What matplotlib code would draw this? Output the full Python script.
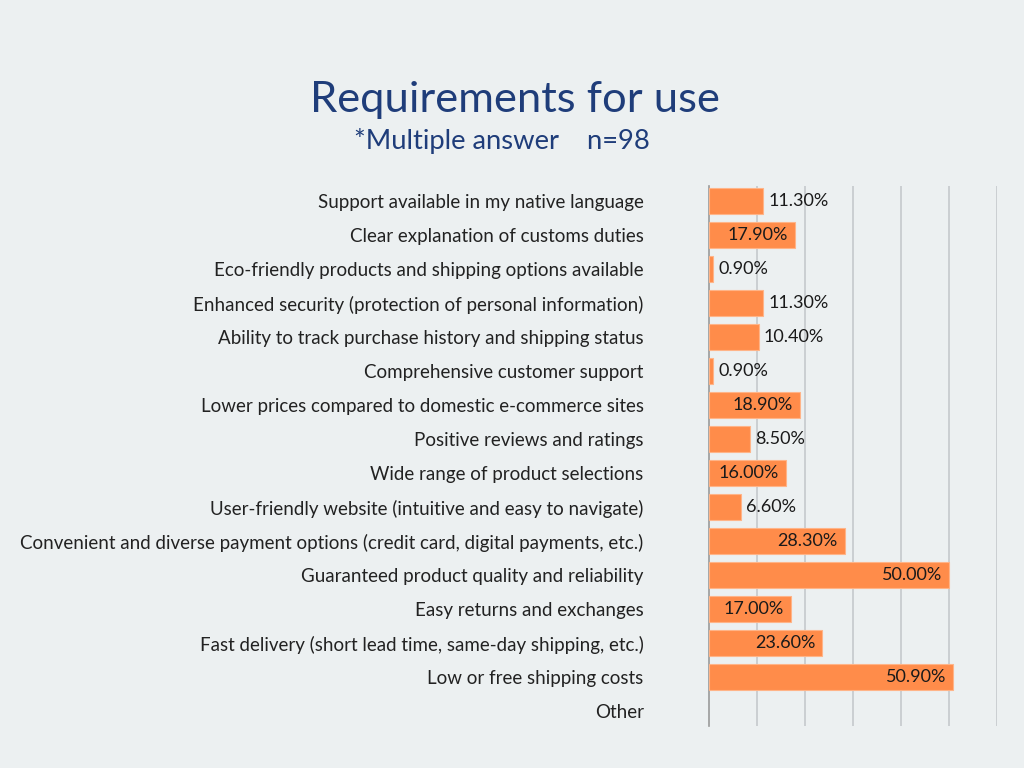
import matplotlib.pyplot as plt

categories = [
    "Support available in my native language",
    "Clear explanation of customs duties",
    "Eco-friendly products and shipping options available",
    "Enhanced security (protection of personal information)",
    "Ability to track purchase history and shipping status",
    "Comprehensive customer support",
    "Lower prices compared to domestic e-commerce sites",
    "Positive reviews and ratings",
    "Wide range of product selections",
    "User-friendly website (intuitive and easy to navigate)",
    "Convenient and diverse payment options (credit card, digital payments, etc.)",
    "Guaranteed product quality and reliability",
    "Easy returns and exchanges",
    "Fast delivery (short lead time, same-day shipping, etc.)",
    "Low or free shipping costs",
    "Other",
]
values = [11.3, 17.9, 0.9, 11.3, 10.4, 0.9, 18.9, 8.5, 16.0, 6.6, 28.3, 50.0, 17.0, 23.6, 50.9, None]

bg = "#ECF0F1"
bar_color = "#FF8C4A"
title_color = "#1F3D7A"

plt.rcParams['font.family'] = ['Lato', 'DejaVu Sans']

fig = plt.figure(figsize=(10.24, 7.68), dpi=100, facecolor=bg)
ax = fig.add_axes([0.6924, 0.0547, 0.2812, 0.703])
ax.set_facecolor(bg)

ypos = list(range(len(categories)))
for y, v in zip(ypos, values):
    if v is None:
        continue
    ax.barh(y, v, height=0.76, color=bar_color, edgecolor="#FFB488", linewidth=0.8, zorder=3)
    label = f"{v:.2f}%"
    if v >= 15:
        ax.annotate(label, (v, y), xytext=(-5, 0), textcoords="offset points",
                    ha="right", va="center", fontsize=13, color="#1a1a1a", zorder=4)
    else:
        ax.annotate(label, (v, y), xytext=(3.5, 0), textcoords="offset points",
                    ha="left", va="center", fontsize=13, color="#1a1a1a", zorder=4)

ax.set_xlim(0, 60)
ax.set_ylim(len(categories) - 0.56, -0.44)
ax.set_yticks(ypos)
ax.set_yticklabels(categories, fontsize=13.5, color="#222222")
ax.tick_params(axis="y", length=0, pad=47)
ax.set_xticks([10, 20, 30, 40, 50, 60])
ax.tick_params(axis="x", length=0, labelbottom=False)
ax.grid(axis="x", color="#C5C9CC", linewidth=1.2, zorder=0)
for s in ["top", "right", "bottom"]:
    ax.spines[s].set_visible(False)
ax.spines["left"].set_color("#9A9A9A")
ax.spines["left"].set_linewidth(1.2)

fig.text(0.503, 0.870, "Requirements for use", ha="center", va="center",
         fontsize=31.3, color=title_color)
fig.text(0.49, 0.817, "*Multiple answer    n=98", ha="center", va="center",
         fontsize=19.7, color=title_color)

fig.savefig("out.png", dpi=100, facecolor=bg)
